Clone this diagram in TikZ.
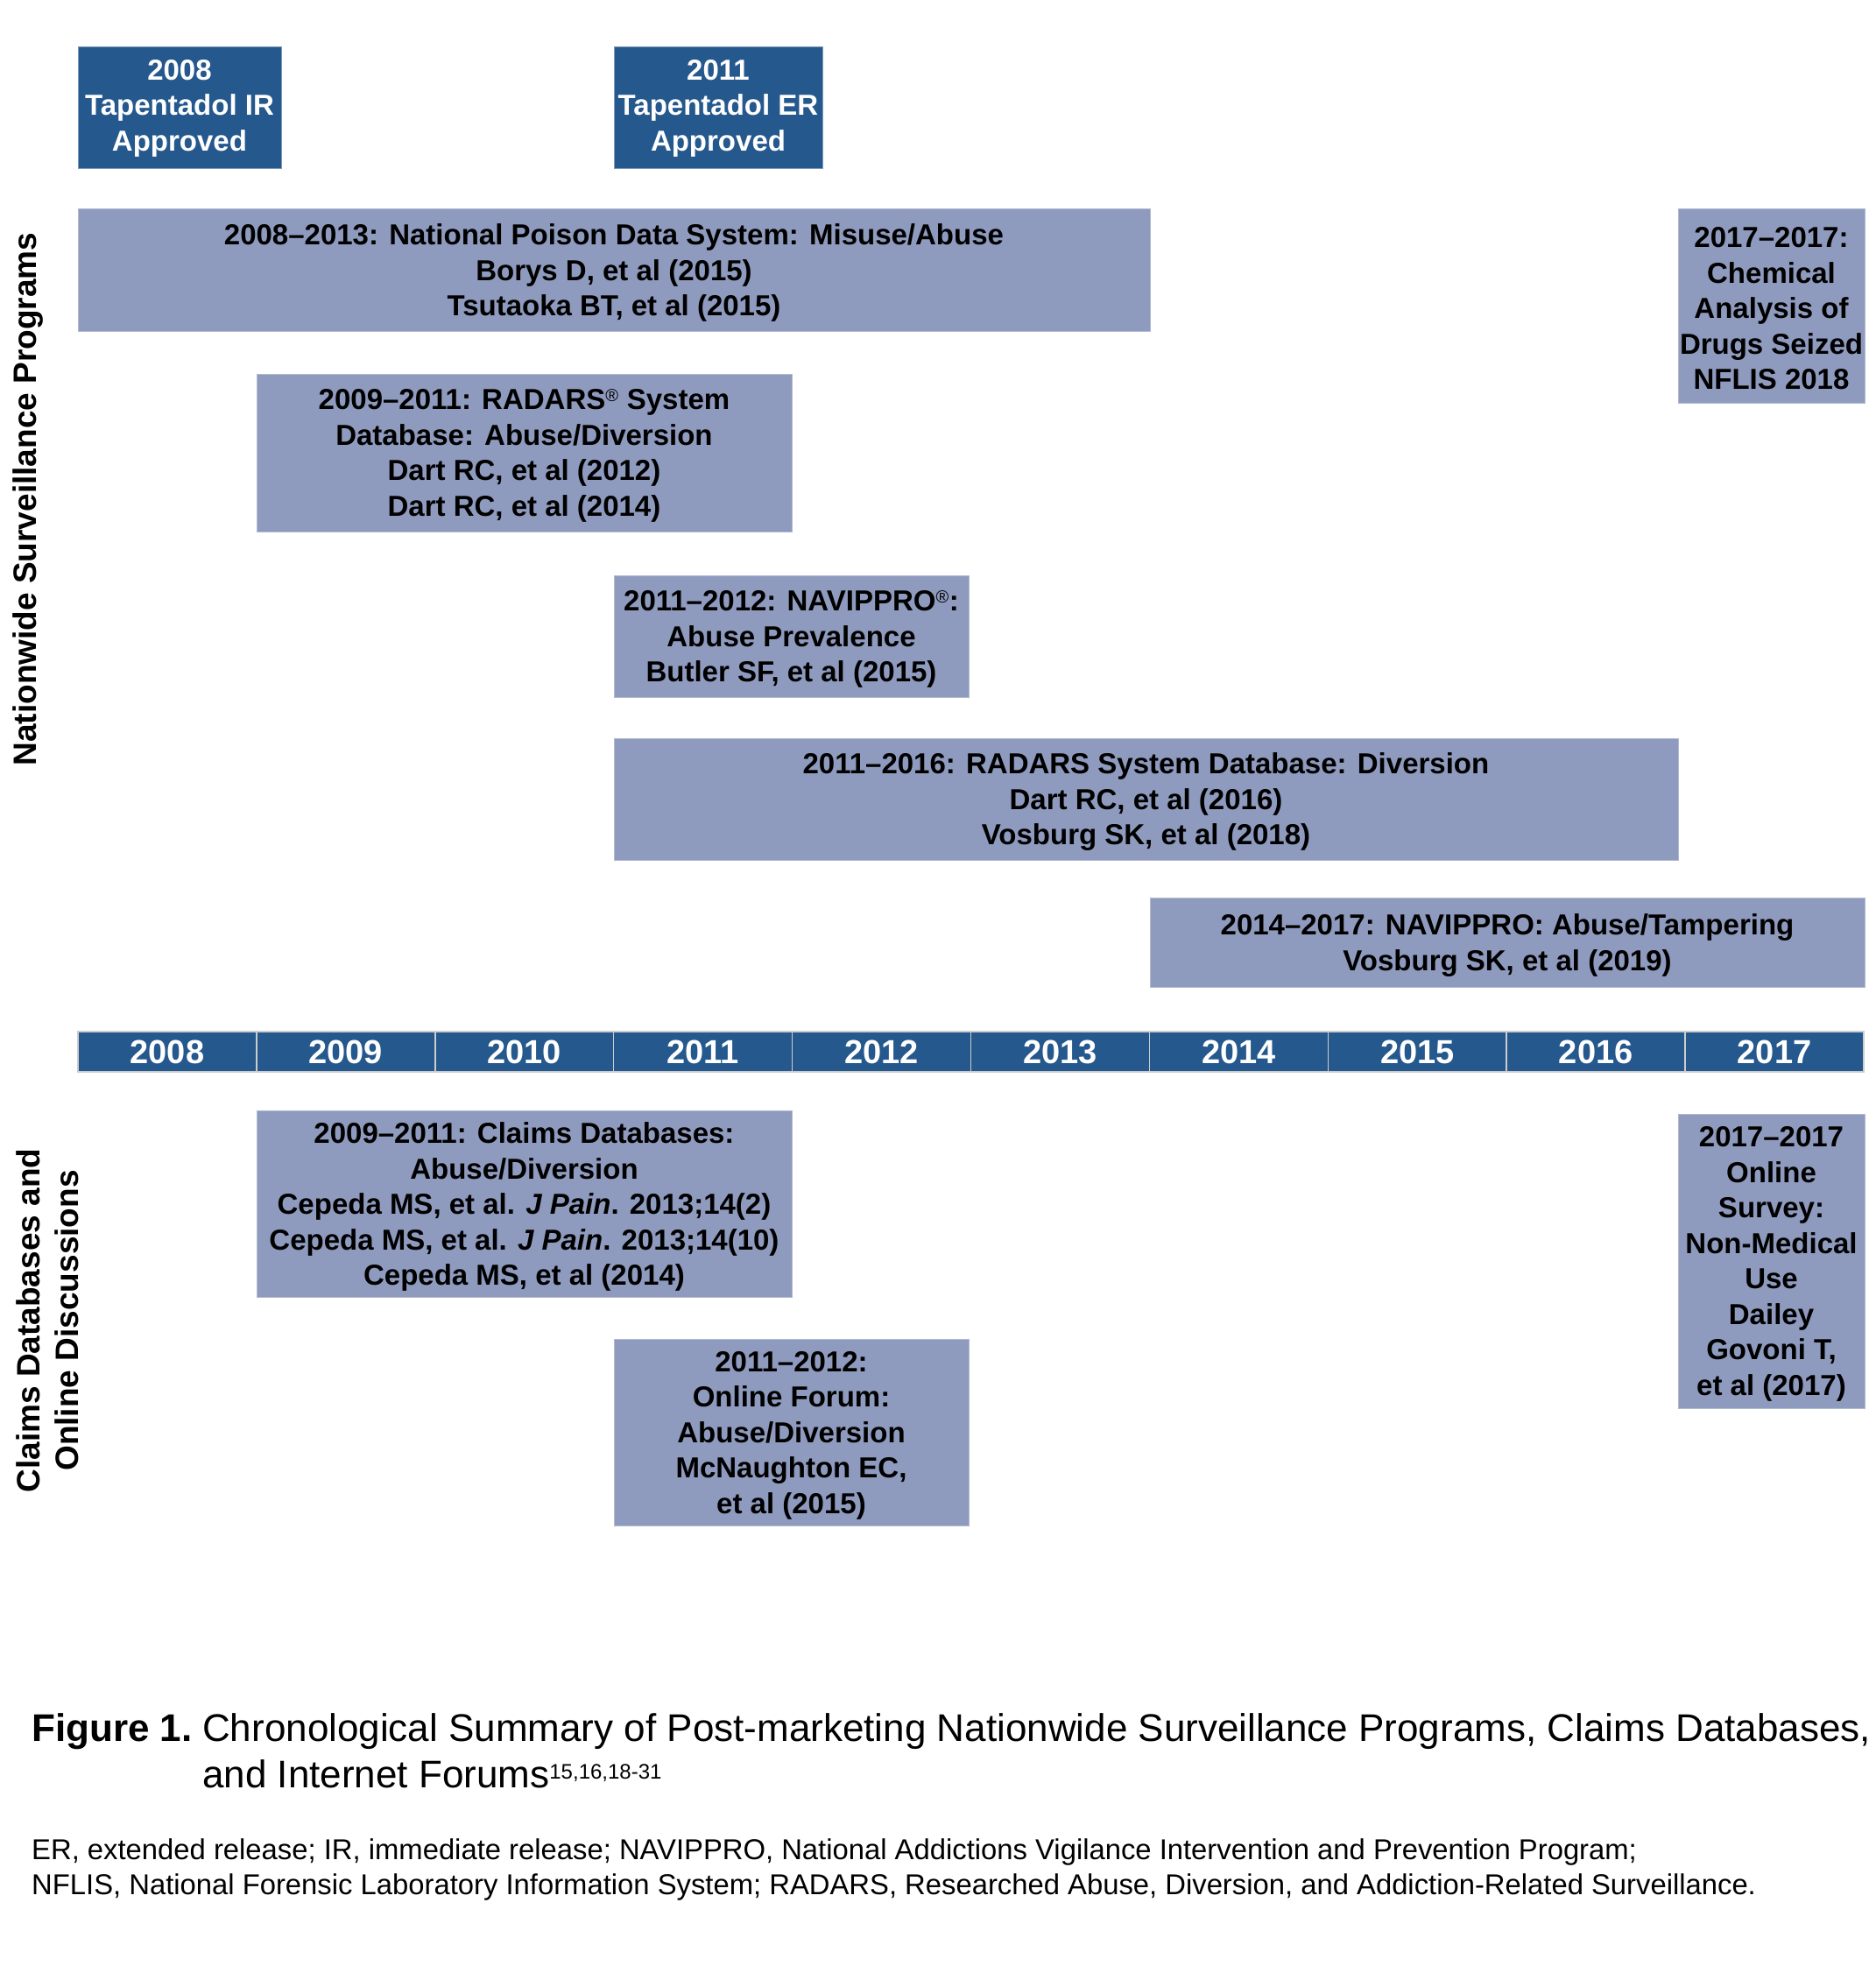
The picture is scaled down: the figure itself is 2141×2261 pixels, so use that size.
\documentclass[tikz,border=0pt]{standalone}
\usepackage{fontspec}
\setmainfont{Liberation Sans}
\definecolor{dkblue}{RGB}{37,88,141}
\definecolor{ltblue}{RGB}{143,155,190}
\tikzset{
  dbox/.style={fill=dkblue, draw=dkblue!60!white, line width=0.8pt, inner sep=0pt},
  dboxtext/.style={text=white, font=\bfseries\fontsize{33}{40.5}\selectfont, align=center, inner sep=0pt, yshift=-1pt},
  lbox/.style={fill=ltblue, draw=ltblue!70!white, line width=0.8pt, inner sep=0pt},
  lboxtext/.style={text=black, font=\bfseries\fontsize{33}{40.5}\selectfont, align=center, inner sep=0pt, yshift=-3.5pt},
  yearcell/.style={fill=dkblue, draw=white!80!black, line width=1.5pt, text=white,
    font=\bfseries\fontsize{38}{40}\selectfont, inner sep=0pt,
    minimum width=203.9pt, minimum height=46pt},
  sidelabel/.style={font=\bfseries\fontsize{37}{44}\selectfont, rotate=90, align=center, inner sep=0pt},
  captext/.style={font=\fontsize{44}{54}\selectfont, anchor=base west, inner sep=0pt},
  notetext/.style={font=\fontsize{32.8}{40}\selectfont, anchor=base west, inner sep=0pt},
}
\newcommand\tlbox[7]{\node[#1, minimum width={(#5)-(#3)}, minimum height={(#6)-(#4)}, label={[#1text]center:{#7}}] (#2) at ({((#3)+(#5))/2},{((#4)+(#6))/2}) {};}
\newcommand\regmark{\textsuperscript{\fontsize{20}{20}\selectfont\normalfont ®}}
\begin{document}
\begin{tikzpicture}[x=1pt,y=-1pt]
\fill[white] (0,0) rectangle (2141,2261);
\useasboundingbox (0,0) rectangle (2141,2261);

% approval boxes
\tlbox{dbox}{ir}{89}{53}{321}{192}{2008\\Tapentadol IR\\Approved}
\tlbox{dbox}{er}{701}{53}{939}{192}{2011\\Tapentadol ER\\Approved}

% nationwide surveillance programs
\tlbox{lbox}{npds}{89}{238}{1313}{378}{2008–2013: National Poison Data System: Misuse/Abuse\\Borys D, et al (2015)\\Tsutaoka BT, et al (2015)}
\tlbox{lbox}{nflis}{1916}{238}{2129}{460}{2017–2017:\\Chemical\\Analysis of\\Drugs Seized\\NFLIS 2018}
\tlbox{lbox}{radA}{293}{427}{904}{607}{2009–2011: RADARS\regmark{} System\\Database: Abuse/Diversion\\Dart RC, et al (2012)\\Dart RC, et al (2014)}
\tlbox{lbox}{navA}{701}{657}{1106}{796}{2011–2012: NAVIPPRO\regmark:\\Abuse Prevalence\\Butler SF, et al (2015)}
\tlbox{lbox}{radB}{701}{843}{1916}{982}{2011–2016: RADARS System Database: Diversion\\Dart RC, et al (2016)\\Vosburg SK, et al (2018)}
\tlbox{lbox}{navB}{1313}{1025}{2129}{1127}{2014–2017: NAVIPPRO: Abuse/Tampering\\Vosburg SK, et al (2019)}

% timeline
\foreach \i in {0,...,9} {
  \pgfmathtruncatemacro\yr{2008+\i}
  \node[yearcell] (y\yr) at ({89+203.9*(\i+0.5)},1201) {\yr};
}

% claims databases and online discussions
\tlbox{lbox}{claims}{293}{1268}{904}{1481}{2009–2011: Claims Databases:\\Abuse/Diversion\\Cepeda MS, et al. \textit{J Pain}. 2013;14(2)\\Cepeda MS, et al. \textit{J Pain}. 2013;14(10)\\Cepeda MS, et al (2014)}
\tlbox{lbox}{forum}{701}{1529}{1106}{1742}{2011–2012:\\Online Forum:\\Abuse/Diversion\\McNaughton EC,\\et al (2015)}
\tlbox{lbox}{survey}{1916}{1272}{2129}{1608}{2017–2017\\Online\\Survey:\\Non-Medical\\Use\\Dailey\\Govoni T,\\et al (2017)}

% side labels
\node[sidelabel] (lab1) at (32,570) {Nationwide Surveillance Programs};
\node[sidelabel] (lab2) at (54,1508) {Claims Databases and\\Online Discussions};

% caption
\node[captext] (figlab) at (36,1988) {\textbf{Figure 1.}};
\node[captext] (cap1) at (231,1988) {Chronological Summary of Post-marketing Nationwide Surveillance Programs, Claims Databases,};
\node[captext] (cap2) at (231,2041) {and Internet Forums\textsuperscript{\fontsize{24}{24}\selectfont 15,16,18-31}};
\node[notetext] (note1) at (36,2123) {ER, extended release; IR, immediate release; NAVIPPRO, National Addictions Vigilance Intervention and Prevention Program;};
\node[notetext] (note2) at (36,2163) {NFLIS, National Forensic Laboratory Information System; RADARS, Researched Abuse, Diversion, and Addiction-Related Surveillance.};
\end{tikzpicture}
\end{document}
